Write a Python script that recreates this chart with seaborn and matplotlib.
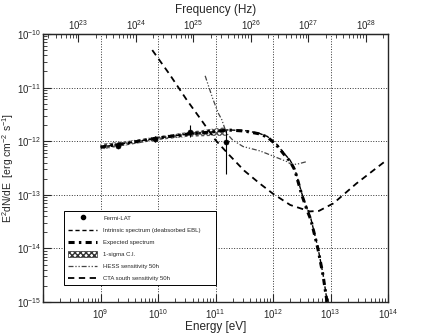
import numpy as np
import pandas as pd
import matplotlib
matplotlib.use("Agg")
import matplotlib.pyplot as plt
import matplotlib.ticker as mticker
import seaborn as sns
from matplotlib.lines import Line2D
from matplotlib.patches import Patch

# ---- data (log10 values) ----
H_EV_S = 4.135667696e-15  # Planck constant, eV s

fermi_logE = [9.31, 9.95, 10.557, 11.177]
fermi_logF = [-12.09, -11.96, -11.82, -12.01]
fermi_logF_lo = [-12.13, -12.01, -11.93, -12.61]
fermi_logF_hi = [-12.05, -11.90, -11.70, -11.80]

spec_logE = [9.0, 9.5, 10.0, 10.5, 11.0, 11.2, 11.5, 11.75, 11.9, 12.06, 12.18,
             12.3, 12.38, 12.5, 12.59, 12.66, 12.78, 12.87, 12.94]
expected_logF = [-12.11, -12.03, -11.94, -11.87, -11.82, -11.79, -11.81, -11.86,
                 -11.92, -12.07, -12.23, -12.38, -12.54, -13.0, -13.28, -13.47,
                 -14.0, -14.5, -15.0]
intrinsic_logF = [-12.11, -12.03, -11.94, -11.87, -11.82, -11.79, -11.80, -11.85,
                  -11.91, -12.05, -12.21, -12.36, -12.52, -12.97, -13.25, -13.45,
                  -13.98, -14.48, -14.98]

band_logE = [9.0, 9.5, 10.0, 10.5, 11.0, 11.18]
band_lo = [-12.16, -12.07, -11.98, -11.92, -11.90, -11.90]
band_hi = [-12.05, -11.99, -11.91, -11.83, -11.76, -11.74]

hess_logE = [10.82, 10.95, 11.05, 11.11, 11.19, 11.3, 11.48, 11.77, 11.89, 12.1,
             12.24, 12.33, 12.45, 12.59]
hess_logF = [-10.78, -11.2, -11.48, -11.60, -11.85, -11.98, -12.10, -12.18,
             -12.23, -12.32, -12.38, -12.44, -12.42, -12.38]

cta_logE = [9.9, 10.2, 10.5, 10.75, 11.0, 11.25, 11.5, 11.77, 12.0, 12.3, 12.64,
            12.8, 13.05, 13.45, 13.98]
cta_logF = [-10.30, -10.75, -11.23, -11.6, -11.98, -12.27, -12.55, -12.79, -12.98,
            -13.19, -13.31, -13.30, -13.16, -12.79, -12.35]

legend_labels = ["Fermi-LAT", "Intrinsic spectrum (deabsorbed EBL)", "Expected spectrum",
                 "1-sigma C.I.", "HESS sensitivity 50h", "CTA south sensitivity 50h"]


def to_df(logE, logF):
    return pd.DataFrame({"E": 10 ** np.array(logE), "F": 10 ** np.array(logF)})


sns.set_style("ticks")
plt.rcParams["font.family"] = ["Liberation Sans", "DejaVu Sans"]
plt.rcParams["mathtext.fontset"] = "custom"
plt.rcParams["mathtext.rm"] = "Liberation Sans"
plt.rcParams["mathtext.it"] = "Liberation Sans:italic"
plt.rcParams["mathtext.bf"] = "Liberation Sans:bold"

fig = plt.figure(figsize=(4.32, 3.36), dpi=100)
ax = fig.add_axes([43 / 432, 1 - 302 / 336, 345 / 432, 268 / 336])
ax.set_xscale("log")
ax.set_yscale("log")

# 1-sigma band
band = to_df(band_logE, band_lo)
band["Fhi"] = 10 ** np.array(band_hi)
ax.fill_between(band["E"], band["F"], band["Fhi"], facecolor="white",
                edgecolor="#555555", hatch="xxxxxx", linewidth=0, zorder=2)

ls_intr = (0, (3, 2))
ls_exp = (0, (2, 1.4, 0.8, 1.4))
ls_hess = (0, (4, 1.5, 1, 1.5, 1, 1.5))
ls_cta = (0, (3.5, 2.5))

sns.lineplot(data=to_df(spec_logE, intrinsic_logF), x="E", y="F", ax=ax,
             color="black", lw=1.0, linestyle=ls_intr, sort=False,
             estimator=None, zorder=3)
sns.lineplot(data=to_df(spec_logE, expected_logF), x="E", y="F", ax=ax,
             color="black", lw=2.2, linestyle=ls_exp, sort=False,
             estimator=None, zorder=4)
sns.lineplot(data=to_df(hess_logE, hess_logF), x="E", y="F", ax=ax,
             color="#444444", lw=0.9, linestyle=ls_hess, sort=False,
             estimator=None, zorder=3)
sns.lineplot(data=to_df(cta_logE, cta_logF), x="E", y="F", ax=ax,
             color="black", lw=1.3, linestyle=ls_cta, sort=False,
             estimator=None, zorder=3)

# Fermi-LAT points
fermi = to_df(fermi_logE, fermi_logF)
lo = 10 ** np.array(fermi_logF_lo)
hi = 10 ** np.array(fermi_logF_hi)
ax.errorbar(fermi["E"], fermi["F"], yerr=[fermi["F"] - lo, hi - fermi["F"]],
            fmt="none", ecolor="black", elinewidth=0.8, capsize=0, zorder=5)
sns.scatterplot(data=fermi, x="E", y="F", ax=ax, color="black", s=14,
                edgecolor="black", zorder=6)

ax.set_xlim(1e8, 1e14)
ax.set_ylim(1e-15, 1e-10)
ax.grid(True, which="major", linestyle=":", color="#333333", linewidth=0.7)
ax.tick_params(which="both", direction="in", top=False, right=False,
               labelsize=7)
ax.tick_params(axis="x", pad=4)
ax.tick_params(axis="y", pad=1.5)
ax.tick_params(which="major", length=6, width=0.8)
ax.tick_params(which="minor", length=3, width=0.6)

# no label at 1e8 (as in the reference)
base_fmt = mticker.LogFormatterSciNotation()


def xfmt(v, pos):
    if v < 5e8:
        return ""
    return base_fmt(v, pos)


ax.xaxis.set_major_formatter(mticker.FuncFormatter(xfmt))
for s in ax.spines.values():
    s.set_linewidth(1.0)
ax.set_xlabel("Energy [eV]", fontsize=8.5, labelpad=0)
ax.set_ylabel(r"E$^{2}$dN/dE  [erg cm$^{-2}$ s$^{-1}$]", fontsize=7.5)
ax.yaxis.set_label_coords(-0.078, 0.5)

# frequency axis on top
sec = ax.secondary_xaxis("top", functions=(lambda e: e / H_EV_S, lambda f: f * H_EV_S))
sec.tick_params(which="both", direction="in", labelsize=7, pad=1.5)
sec.tick_params(which="major", length=6, width=0.8)
sec.tick_params(which="minor", length=3, width=0.6)
fig.text(215.5 / 432, 1 - 9.5 / 336, "Frequency (Hz)", fontsize=8.5,
         ha="center", va="center")

# legend
handles = [
    Line2D([], [], color="black", marker="o", ms=3, linestyle="none"),
    Line2D([], [], color="black", lw=1.0, linestyle=ls_intr),
    Line2D([], [], color="black", lw=2.2, linestyle=ls_exp),
    Patch(facecolor="white", edgecolor="#333333", hatch="xxxxxx", linewidth=0.5),
    Line2D([], [], color="#444444", lw=0.9, linestyle=ls_hess),
    Line2D([], [], color="black", lw=1.3, linestyle=ls_cta),
]
leg = ax.legend(handles, legend_labels, loc="lower left",
                bbox_to_anchor=(0.061, 0.063, 0.441, 0.254), mode="expand",
                fontsize=4.3, frameon=True, fancybox=False, edgecolor="black",
                framealpha=1, handlelength=5.0, handleheight=1.2, borderpad=0.6,
                labelspacing=1.0, handletextpad=1.0, borderaxespad=0)
leg.get_frame().set_linewidth(0.7)
leg.set_zorder(10)

fig.savefig("out.png", dpi=100)
